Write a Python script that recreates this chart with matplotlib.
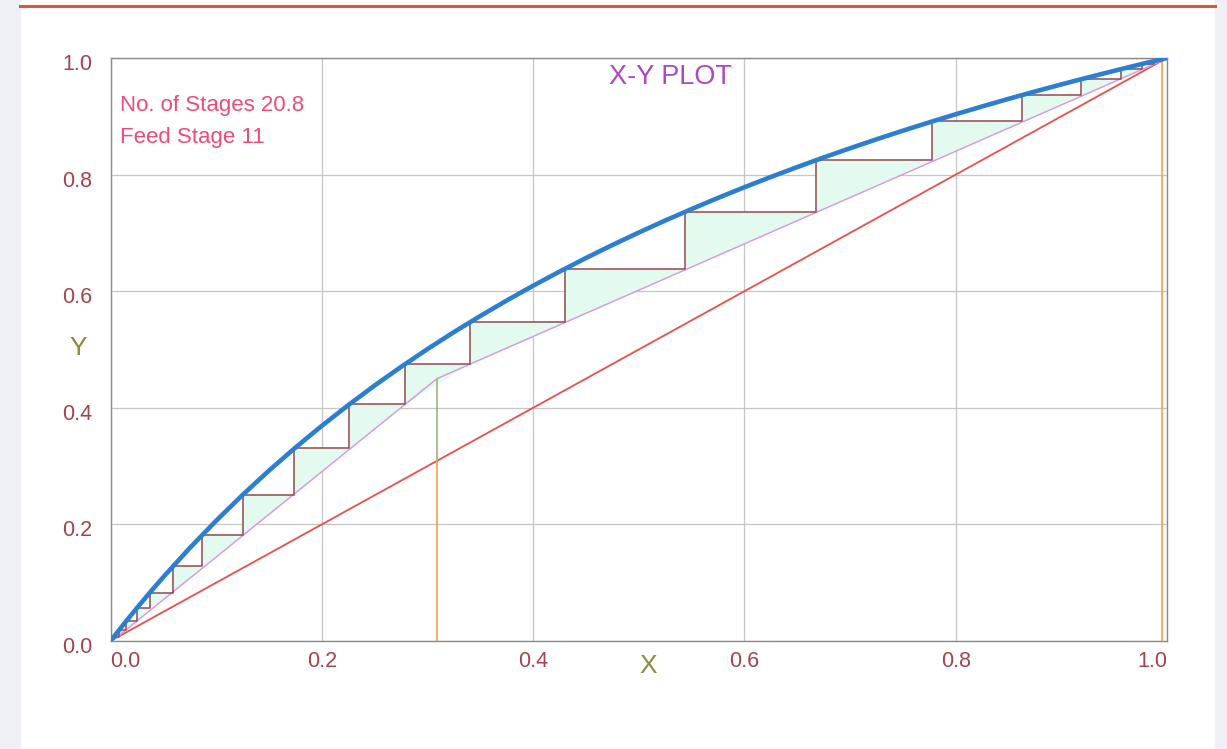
import matplotlib.pyplot as plt
from matplotlib.patches import Rectangle
from matplotlib.lines import Line2D
from matplotlib.transforms import ScaledTranslation

plt.rcParams['font.family'] = ['Liberation Sans', 'DejaVu Sans']

# compositions
x_d = 0.995   # distillate
x_f = 0.309   # feed
x_b = 0.005   # bottoms
q_y = 0.45    # feed line meets operating lines here

# equilibrium curve
eq_x = [0.0, 0.0125, 0.025, 0.0375, 0.05, 0.075, 0.1, 0.125, 0.15, 0.175, 0.2,
        0.225, 0.25, 0.275, 0.3, 0.325, 0.35, 0.375, 0.4, 0.425, 0.45, 0.475,
        0.5, 0.525, 0.55, 0.575, 0.6, 0.625, 0.65, 0.675, 0.7, 0.725, 0.75,
        0.775, 0.8, 0.825, 0.85, 0.875, 0.9, 0.925, 0.95, 0.975, 1.0]
eq_y = [0.0, 0.0288, 0.0566, 0.0836, 0.1097, 0.1595, 0.2063, 0.2505, 0.2923,
        0.3317, 0.3691, 0.4045, 0.4382, 0.4702, 0.5007, 0.5298, 0.5575, 0.5840,
        0.6094, 0.6336, 0.6569, 0.6792, 0.7006, 0.7212, 0.7409, 0.7600, 0.7783,
        0.7959, 0.8129, 0.8294, 0.8452, 0.8605, 0.8753, 0.8896, 0.9035, 0.9169,
        0.9299, 0.9425, 0.9547, 0.9665, 0.9780, 0.9892, 1.0]

# stage corners on the equilibrium curve (top of the stairs first)
stage_x = [0.988, 0.976, 0.956, 0.919, 0.863, 0.778, 0.668, 0.544, 0.430,
           0.340, 0.279, 0.226, 0.174, 0.125, 0.087, 0.059, 0.037, 0.025,
           0.015, 0.008, 0.003]
stage_y = [0.9948, 0.9896, 0.9807, 0.9637, 0.9365, 0.8913, 0.8248, 0.7363,
           0.6384, 0.5466, 0.4752, 0.4059, 0.3302, 0.2505, 0.1823, 0.1280,
           0.0825, 0.0566, 0.0344, 0.0185, 0.0070]
last_bottom = 0.003

n_stages = '20.8'
feed_stage = '11'

ticks = [0.0, 0.2, 0.4, 0.6, 0.8, 1.0]
tick_labels = ['0.0', '0.2', '0.4', '0.6', '0.8', '1.0']

fig = plt.figure(figsize=(12.27, 7.49), dpi=100)
fig.patches.append(Rectangle((0, 0), 20 / 1227, 1, transform=fig.transFigure,
                             color='#eef0f5', zorder=0))
fig.patches.append(Rectangle((1215 / 1227, 0), 12 / 1227, 1, transform=fig.transFigure,
                             color='#eef0f5', zorder=0))
fig.lines.append(Line2D([20 / 1227, 1215 / 1227], [1 - 5.5 / 749, 1 - 5.5 / 749],
                        transform=fig.transFigure, color='#e2533f', lw=2.2))

ax = fig.add_axes([110.5 / 1227, 108 / 749, 1056.5 / 1227, 583 / 749])
ax.set_xlim(0, 1.0)
ax.set_ylim(0, 1.0)

# stairs + light green triangles
bottoms = stage_y[1:] + [last_bottom]
sx, sy = [x_d], [stage_y[0]]
for i in range(len(stage_x)):
    right = x_d if i == 0 else stage_x[i - 1]
    ax.fill([stage_x[i], right, stage_x[i]], [stage_y[i], stage_y[i], bottoms[i]],
            color='#e3fbef', lw=0, zorder=1)
    sx += [stage_x[i], stage_x[i]]
    sy += [stage_y[i], bottoms[i]]
ax.plot(sx, sy, color='#8e4a4e', lw=1.1, zorder=3)

# diagonal
ax.plot([0, 1], [0, 1], color='#e8504c', lw=1.3, zorder=2)
# operating lines
ax.plot([x_d, x_f], [x_d, q_y], color='#d69be0', lw=1.1, zorder=2)
ax.plot([x_f, x_b], [q_y, x_b], color='#d69be0', lw=1.1, zorder=2)
# feed line and composition markers
ax.plot([x_f, x_f], [0, x_f], color='#f7a04e', lw=1.2, zorder=2)
ax.plot([x_f, x_f], [x_f, q_y], color='#9ab87a', lw=1.2, zorder=2)
ax.plot([x_d, x_d], [0, x_d], color='#f7a04e', lw=1.2, zorder=2)
# equilibrium curve
ax.plot(eq_x, eq_y, color='#2c7ed0', lw=3.3, zorder=4, solid_capstyle='round',
        solid_joinstyle='round')

ax.grid(True, color='#c6c6c6', lw=0.9)
ax.set_axisbelow(True)
for s in ax.spines.values():
    s.set_color('#8a8a8a')
    s.set_linewidth(1.0)
ax.set_xticks(ticks)
ax.set_xticklabels(tick_labels)
ax.set_yticks(ticks)
ax.set_yticklabels(tick_labels)
ax.tick_params(length=0, labelsize=15.5, labelcolor='#a3444c')
ax.tick_params(axis='x', pad=7)
ax.tick_params(axis='y', pad=13)
xl = ax.get_xticklabels()
xl[0].set_ha('left')
xl[-1].set_ha('right')
shift = ScaledTranslation(0, -4 / 100, fig.dpi_scale_trans)
for t in ax.get_yticklabels():
    t.set_transform(t.get_transform() + shift)

ax.text(0.5305, 0.968, 'X-Y PLOT', color='#ab48c2', fontsize=19.5,
        ha='center', va='center')
ax.text(0.009, 0.918, 'No. of Stages ' + n_stages, color='#ee4a7c', fontsize=16,
        ha='left', va='center')
ax.text(0.009, 0.863, 'Feed Stage ' + feed_stage, color='#ee4a7c', fontsize=16,
        ha='left', va='center')

fig.text(78 / 1227, 1 - 348 / 749, 'Y', color='#8c8a3c', fontsize=19,
         ha='center', va='center')
fig.text(648 / 1227, 1 - 666 / 749, 'X', color='#8c8a3c', fontsize=19,
         ha='center', va='center')

fig.savefig('out.png', dpi=100)
